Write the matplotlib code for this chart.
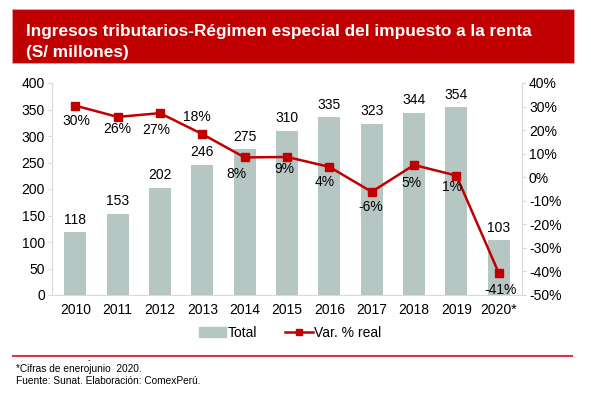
import numpy as np
import matplotlib.pyplot as plt
from matplotlib.patches import Rectangle
from matplotlib.lines import Line2D
from matplotlib.ticker import FuncFormatter

plt.rcParams['font.family'] = ['Liberation Sans', 'DejaVu Sans']

years = ['2010', '2011', '2012', '2013', '2014', '2015', '2016', '2017', '2018', '2019', '2020*']
total = [118, 153, 202, 246, 275, 310, 335, 323, 344, 354, 103]
var_real = [30.4, 25.6, 27.2, 18.3, 8.4, 8.6, 4.4, -6.2, 5.2, 0.7, -40.6]

bar_color = '#B6C6C3'
line_color = '#C00000'
spine_color = '#D9D9D9'

fig = plt.figure(figsize=(5.91, 3.99), dpi=100)

# title box
fig.patches.append(Rectangle((12 / 591, 1 - 63 / 399), 562 / 591, 54 / 399,
                             transform=fig.transFigure, facecolor='#C00000',
                             edgecolor='#E8A0A0', linewidth=0.6))
fig.text(26 / 591, 1 - 36 / 399, 'Ingresos tributarios-Régimen especial del impuesto a la renta',
         color='white', fontsize=12.4, fontweight='bold', va='baseline')
fig.text(26 / 591, 1 - 57 / 399, '(S/ millones)',
         color='white', fontsize=12.4, fontweight='bold', va='baseline')

ax = fig.add_axes([52 / 591, 1 - 295 / 399, 470 / 591, 212 / 399])
x = np.arange(len(years))
bars = ax.bar(x, total, width=0.52, color=bar_color, zorder=1)
ax.set_ylim(0, 400)
ax.set_yticks(range(0, 401, 50))
ax.set_xlim(-0.55, len(years) - 0.45)
ax.set_xticks(x)
ax.set_xticklabels(years)
ax.tick_params(axis='x', length=0, labelsize=10, pad=6)
ax.tick_params(axis='y', length=3, color=spine_color, labelsize=10, pad=2)
for s in ['top', 'right']:
    ax.spines[s].set_visible(False)
for s in ['left', 'bottom']:
    ax.spines[s].set_color(spine_color)

for xi, v in zip(x, total):
    ax.annotate(str(v), (xi, v), xytext=(0, 4), textcoords='offset points',
                ha='center', va='bottom', fontsize=10)

ax2 = ax.twinx()
ax2.plot(x, var_real, color=line_color, marker='s', markersize=6, linewidth=1.8, zorder=3)
ax2.set_ylim(-50, 40)
ax2.set_yticks(range(-50, 41, 10))
ax2.yaxis.set_major_formatter(FuncFormatter(lambda v, p: f'{v:.0f}%'))
ax2.tick_params(axis='y', length=3, color=spine_color, labelsize=10, pad=2)
for s in ['top', 'left', 'bottom']:
    ax2.spines[s].set_visible(False)
ax2.spines['right'].set_color(spine_color)

label_offsets = [(1, -11), (0, -9), (-3, -12), (-4, 12), (-6, -12), (-2, -9),
                 (-3, -11), (-1, -11), (-2, -13), (-3, -8), (1, -12)]
for xi, v, off in zip(x, var_real, label_offsets):
    ax2.annotate(f'{v:.0f}%', (xi, v), xytext=off, textcoords='offset points',
                 ha='center', va='center', fontsize=10)

handles = [Rectangle((0, 0), 1, 1, color=bar_color),
           Line2D([0], [0], color=line_color, marker='s', markersize=5, linewidth=1.8)]
fig.legend(handles, ['Total', 'Var. % real'], loc='center', bbox_to_anchor=(290 / 591, 1 - 333 / 399),
           ncol=2, frameon=False, fontsize=10, handlelength=2.0, handletextpad=0.1,
           columnspacing=2.0)

# footer
fig.add_artist(Line2D([13 / 591, 572 / 591], [1 - 356 / 399, 1 - 356 / 399],
                      transform=fig.transFigure, color='#E0304A', linewidth=1.5))
fig.text(88 / 591, 1 - 362 / 399, '-', fontsize=6, va='baseline')
fig.text(16 / 591, 1 - 372 / 399, '*Cifras de enerojunio  2020.', fontsize=7.3, va='baseline')
fig.text(16 / 591, 1 - 384 / 399, 'Fuente: Sunat. Elaboración: ComexPerú.', fontsize=7.3, va='baseline')

fig.savefig('out.png', dpi=100)
